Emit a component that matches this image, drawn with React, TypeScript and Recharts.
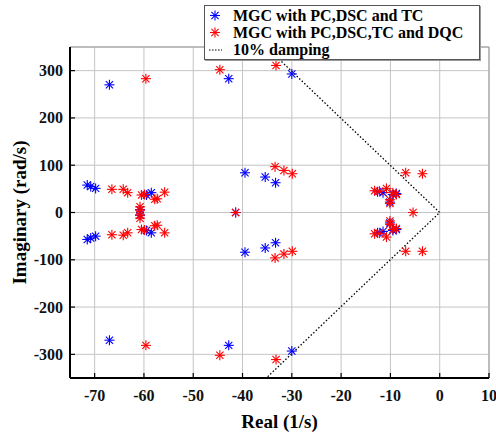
import React from 'react';
import { ScatterChart, Scatter, XAxis, YAxis, CartesianGrid, ReferenceLine, Legend } from 'recharts';

const FONT = '"Liberation Serif", "Times New Roman", serif';

const X_TICKS = [-70, -60, -50, -40, -30, -20, -10, 0, 10];
const Y_TICKS = [-300, -200, -100, 0, 100, 200, 300];

const SERIES_TC_NAME = 'MGC with PC,DSC and TC';
const SERIES_DQC_NAME = 'MGC with PC,DSC,TC and DQC';
const DAMPING_NAME = '10% damping';

// Blue: MGC with PC,DSC and TC
const TC_REAL = [
  -67, -67, -42.8, -42.8, -30, -30, -39.5, -39.5, -35.4, -35.4, -33.3, -33.3,
  -71.5, -71.5, -70.8, -70.8, -69.8, -69.8, -58.5, -58.5, -59.5, -59.5,
  -60.8, -60.8, -41.4, -11.5, -11.5, -9.5, -9.5, -12.6, -12.6, -10.1, -10.1, -8.8, -8.8,
];
const TC_IMAG = [
  270, -270, 283, -281, 293, -293, 84, -84, 75, -75, 63, -64,
  58, -57, 55, -54, 51, -50, 42, -43, 37, -38,
  6, -6, 0, 42, -40, 38, -38, 44, -43, 22, -22, 40, -36,
];

// Red: MGC with PC,DSC,TC and DQC
const DQC_REAL = [
  -59.6, -59.6, -44.6, -44.6, -33.2, -33.2, -33.4, -33.4, -31.6, -31.6, -29.9, -29.9,
  -6.9, -6.9, -3.5, -3.5, -5.4, -41.4,
  -66.5, -66.5, -64.2, -64.2, -63.3, -63.3, -60.5, -60.5, -59.9, -59.9,
  -57.8, -57.8, -57.3, -57.3, -55.8, -55.8,
  -60.8, -60.8, -60.8, -60.8,
  -13.2, -13.2, -12.2, -12.2, -10.8, -10.8, -9.5, -9.5, -8.8, -8.8,
  -10.1, -10.1, -10.1, -10.1,
];
const DQC_IMAG = [
  283, -281, 302, -302, 311, -311, 97, -96, 89, -88, 82, -82,
  84, -82, 82, -82, 0, 0,
  49, -47, 49, -48, 42, -43, 37, -36, 38, -37,
  28, -28, 29, -27, 43, -43,
  12, 5, -5, -12,
  46, -45, 45, -44, 51, -52, 42, -36, 38, -34,
  27, -25, 19, -18,
];

// 10% damping line
const DAMP_REAL = [-35.18, 0, -35.18];
const DAMP_IMAG = [350, 0, -350];

const toPoints = (xs: number[], ys: number[]) => xs.map((x, i) => ({ x, y: ys[i] }));

const tcData = toPoints(TC_REAL, TC_IMAG);
const dqcData = toPoints(DQC_REAL, DQC_IMAG);
const dampData = toPoints(DAMP_REAL, DAMP_IMAG);

const BLUE = '#0000ff';
const RED = '#ff0000';

const makeAsterisk = (color: string) => (props: any) => {
  const { cx, cy } = props;
  if (cx == null || cy == null) return <g />;
  const r = 5;
  const d = 3.6;
  return (
    <g stroke={color} strokeWidth={1.1}>
      <line x1={cx - r} y1={cy} x2={cx + r} y2={cy} />
      <line x1={cx} y1={cy - r} x2={cx} y2={cy + r} />
      <line x1={cx - d} y1={cy - d} x2={cx + d} y2={cy + d} />
      <line x1={cx - d} y1={cy + d} x2={cx + d} y2={cy - d} />
    </g>
  );
};

const XTick = (props: any) => {
  const { x, y, payload } = props;
  return (
    <g>
      <line x1={x} y1={y} x2={x} y2={y - 5} stroke="#000" strokeWidth={1.2} />
      <text x={x} y={y + 23} textAnchor="middle" fontFamily={FONT} fontWeight="bold" fontSize={16} fill="#111">
        {payload.value}
      </text>
    </g>
  );
};

const YTick = (props: any) => {
  const { x, y, payload } = props;
  return (
    <g>
      <line x1={x} y1={y} x2={x + 5} y2={y} stroke="#000" strokeWidth={1.2} />
      <text x={x - 7} y={y + 5.5} textAnchor="end" fontFamily={FONT} fontWeight="bold" fontSize={16} fill="#111">
        {payload.value}
      </text>
    </g>
  );
};

const LegendContent = () => {
  const rowStyle: React.CSSProperties = {
    position: 'absolute',
    left: 0,
    height: 17,
    lineHeight: '17px',
    whiteSpace: 'nowrap',
  };
  const marker = (color: string) => (
    <svg width={20} height={17} style={{ position: 'absolute', left: 0, top: 0 }}>
      {makeAsterisk(color)({ cx: 10, cy: 8.5 })}
    </svg>
  );
  return (
    <div
      style={{
        position: 'relative',
        width: 276,
        height: 55,
        background: '#fff',
        border: '1px solid #555',
        boxShadow: '1px 1px 0 #999',
        fontFamily: FONT,
        fontWeight: 'bold',
        fontSize: 16,
        color: '#000',
        boxSizing: 'border-box',
      }}
    >
      <div style={{ ...rowStyle, top: 1 }}>
        {marker(BLUE)}
        <span style={{ position: 'absolute', left: 28 }}>{SERIES_TC_NAME}</span>
      </div>
      <div style={{ ...rowStyle, top: 18 }}>
        {marker(RED)}
        <span style={{ position: 'absolute', left: 28 }}>{SERIES_DQC_NAME}</span>
      </div>
      <div style={{ ...rowStyle, top: 35 }}>
        <svg width={20} height={17} style={{ position: 'absolute', left: 0, top: 0 }}>
          <line x1={4} y1={9} x2={17} y2={9} stroke="#000" strokeWidth={1.2} strokeDasharray="1.5 1.5" />
        </svg>
        <span style={{ position: 'absolute', left: 28 }}>{DAMPING_NAME}</span>
      </div>
    </div>
  );
};

export default function App() {
  return (
    <div style={{ position: 'absolute', left: 0, top: 0, background: '#fff' }}>
      <ScatterChart width={496} height={437} margin={{ top: 47, right: 7, bottom: 0, left: 0 }}>
        <CartesianGrid stroke="#c4c4c4" strokeWidth={1} />
        <XAxis
          type="number"
          dataKey="x"
          domain={[-75, 10]}
          ticks={X_TICKS}
          interval={0}
          allowDataOverflow
          height={59}
          tickSize={0}
          tickMargin={0}
          tick={<XTick />}
          axisLine={{ stroke: '#000', strokeWidth: 2 }}
          label={{
            content: (p: any) => {
              const vb = p.viewBox || {};
              return (
                <text
                  x={vb.x + vb.width / 2}
                  y={vb.y + 50}
                  textAnchor="middle"
                  fontFamily={FONT}
                  fontWeight="bold"
                  fontSize={19}
                  fill="#000"
                >
                  Real (1/s)
                </text>
              );
            },
          }}
        />
        <YAxis
          type="number"
          dataKey="y"
          domain={[-350, 350]}
          ticks={Y_TICKS}
          interval={0}
          allowDataOverflow
          width={70}
          tickSize={0}
          tickMargin={0}
          tick={<YTick />}
          axisLine={{ stroke: '#000', strokeWidth: 2 }}
          label={{
            content: (p: any) => {
              const vb = p.viewBox || {};
              const cx = vb.x + 19;
              const cy = vb.y + vb.height / 2;
              return (
                <text
                  x={cx}
                  y={cy}
                  transform={`rotate(-90 ${cx} ${cy})`}
                  textAnchor="middle"
                  dominantBaseline="central"
                  fontFamily={FONT}
                  fontWeight="bold"
                  fontSize={19}
                  fill="#000"
                >
                  Imaginary (rad/s)
                </text>
              );
            },
          }}
        />
        <ReferenceLine y={350} stroke="#999" strokeWidth={1} />
        <ReferenceLine x={10} stroke="#999" strokeWidth={1} />
        <Scatter
          name={DAMPING_NAME}
          data={dampData}
          line={{ stroke: '#000', strokeWidth: 1.3, strokeDasharray: '1.5 2' }}
          lineType="joint"
          shape={() => <g />}
          isAnimationActive={false}
        />
        <Scatter name={SERIES_TC_NAME} data={tcData} shape={makeAsterisk(BLUE)} isAnimationActive={false} />
        <Scatter name={SERIES_DQC_NAME} data={dqcData} shape={makeAsterisk(RED)} isAnimationActive={false} />
        <Legend
          layout="vertical"
          align="center"
          verticalAlign="middle"
          content={<LegendContent />}
          wrapperStyle={{ position: 'absolute', left: 204, top: 5, width: 276, height: 55 }}
        />
      </ScatterChart>
    </div>
  );
}
